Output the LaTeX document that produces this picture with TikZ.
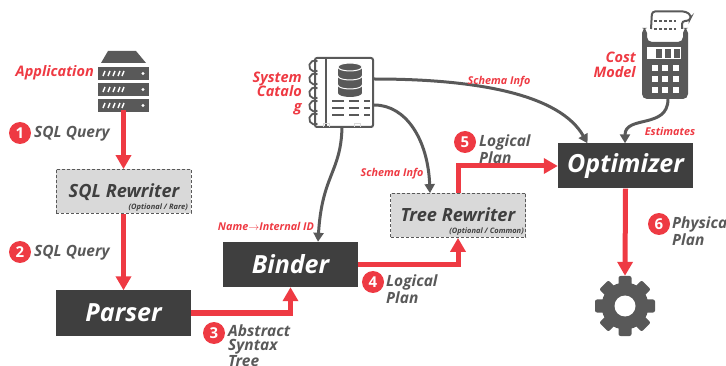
\documentclass[tikz,border=0pt]{standalone}
\usepackage{fontspec}
\setmainfont{Open Sans}
\usetikzlibrary{arrows.meta}
\definecolor{mainred}{HTML}{EE3A43}
\definecolor{darkbox}{HTML}{3F3F3F}
\definecolor{icongray}{HTML}{595959}
\definecolor{lightbox}{HTML}{D9D9D9}
\tikzset{
	stagebox/.style={draw=none, fill=darkbox, text=white, minimum width=135pt, minimum height=45pt, inner sep=0pt, font=\bfseries\itshape\fontsize{25}{25}\selectfont},
	optbox/.style={draw=icongray, densely dashed, line width=0.8pt, fill=lightbox, text=darkbox, minimum width=135pt, minimum height=44pt, inner sep=0pt},
	iconspot/.style={minimum width=#1, minimum height=#1, inner sep=0pt},
	badge/.style={circle, fill=mainred, text=white, minimum size=22pt, inner sep=0pt, font=\bfseries\fontsize{15}{15}\selectfont},
	graylabel/.style={text=icongray, align=left, anchor=west, inner sep=0pt, font=\bfseries\itshape\fontsize{15.5}{13.5}\selectfont},
	redlabel/.style={text=mainred, align=right, inner sep=0pt, font=\bfseries\itshape\fontsize{14.5}{14.5}\selectfont},
	smallred/.style={text=mainred, inner sep=0pt, font=\bfseries\itshape\fontsize{10.8}{11}\selectfont},
	rewritername/.style={text=darkbox, inner sep=0pt, font=\bfseries\itshape\fontsize{18.2}{18}\selectfont},
	rewriternote/.style={text=darkbox, anchor=east, inner sep=0pt, font=\bfseries\itshape\fontsize{7.5}{8}\selectfont},
	redflow/.style={draw=mainred, line width=5pt, -{Triangle[width=15pt,length=14pt]}},
	grayflow/.style={draw=icongray, line width=3pt, -{Triangle[width=10pt,length=9pt]}}
}
\begin{document}
\begin{tikzpicture}[x=1pt,y=-1pt]
	\useasboundingbox (0,0) rectangle (726,366);

	% stages
	\node[optbox] (sqlrewriter) at (123.5,191.5) {};
	\node[rewritername] (sqlname) at (124,192) {SQL Rewriter};
	\node[rewriternote] (sqlnote) at (188,208) {(Optional / Rare)};
	\node[stagebox] (parser) at (123.5,313) {Parser};
	\node[stagebox] (binder) at (290.5,264.5) {Binder};
	\node[optbox] (treerewriter) at (458,215.5) {};
	\node[rewritername] (treename) at (458,215) {Tree Rewriter};
	\node[rewriternote] (treenote) at (524,232) {(Optional / Common)};
	\node[stagebox] (optimizer) at (625.5,166) {Optimizer};

	% icon places
	\node[iconspot=50pt] (application) at (123.5,87) {};
	\node[iconspot=60pt, minimum height=69pt] (catalog) at (344,92.5) {};
	\node[iconspot=46pt, minimum height=71pt] (costmodel) at (665,63.5) {};
	\node[iconspot=60pt] (gear) at (625,306) {};

	% application
	\fill[icongray] (108,51) -- (136,51) -- (146,63) -- (101,63) -- cycle;
	\foreach \y in {67,83,99} {
		\fill[icongray] (98,\y) rectangle (149,\y+13);
		\fill[white] (143,\y+6.5) circle (1.6);
		\foreach \x in {103,108,113,118,122}
			\draw[white, line width=1.4pt] (\x,\y+9) -- (\x+2,\y+4);
	}

	% catalog
	\draw[icongray, line width=2pt, rounded corners=2pt] (315,58) rectangle (373,127);
	\draw[icongray, line width=2pt] (326,58) -- (326,127);
	\foreach \x in {323,354}
		\draw[lightbox, line width=0.6pt] (\x,127) -- (\x,123) -- (\x+6,123) -- (\x+6,127);
	\foreach \y in {66,79,93,106,119}
		\draw[icongray, line width=1.8pt] (317.5,\y+4.8) arc[start angle=-60, end angle=-300, radius=5.5pt];
	\foreach \y in {85,76,67} {
		\fill[icongray] (338,\y) rectangle (362,\y+8);
		\fill[icongray] (350,\y+8) ellipse (12 and 4);
		\draw[white, line width=1pt, fill=icongray] (350,\y) ellipse (12 and 4);
	}
	\foreach \y/\a/\b/\c in {101/332/349/364, 108/332/349/364, 115/332/349/364} {
		\draw[icongray, line width=2pt] (\a,\y) -- (\a+12,\y);
		\draw[icongray, line width=2pt] (\b,\y) -- (\b+10,\y);
		\draw[icongray, line width=2pt] (\c,\y) -- (\c+6,\y);
	}

	% cost model
	\draw[icongray, line width=2pt, rounded corners=3pt] (651,29) -- (652,11.5) -- (686,11.5) -- (691.5,16) -- (689,21) -- (682,21) -- (682,29);
	\draw[icongray, line width=1.5pt, densely dashed] (654,21) -- (676,21);
	\draw[icongray, line width=1.5pt, densely dashed] (654,29) -- (676,29);
	\fill[icongray, rounded corners=5pt] (642,28) -- (647,28) -- (647,42) -- (683,42) -- (683,28) -- (688,28) -- (688,99) -- (642,99) -- cycle;
	\fill[white] (647,47) rectangle (681,59);
	\foreach \x in {659,668,677}
		\fill[icongray] (\x-3,49) rectangle (\x+3,58);
	\foreach \x in {655,665,676}
		\foreach \y in {68,79,90}
			\fill[white] (\x-3,\y-3) rectangle (\x+3,\y+3);

	% gear
	\foreach \a in {0,45,...,315}
		\fill[icongray, rounded corners=2pt, rotate around={\a:(625,306)}] (618.5,276) rectangle (631.5,296);
	\fill[icongray] (625,306) circle (23.5);
	\fill[white] (625,306) circle (10.5);

	% flow
	\draw[redflow] (application.south |- 0,110) -- (sqlrewriter.north);
	\draw[redflow] (sqlrewriter.south) -- (parser.north);
	\draw[redflow] (parser.east) -| (binder.south);
	\draw[redflow] (binder.east) -| (treerewriter.south);
	\draw[redflow] (treerewriter.north) |- (optimizer.west);
	\draw[redflow] (optimizer.south) -- (gear.north);

	\draw[grayflow] ([yshift=13.5pt]catalog.east) .. controls +(105,0) and (560,95) .. ([xshift=-38pt]optimizer.north);
	\draw[grayflow] ([yshift=-12.5pt]catalog.east) .. controls +(32,0) and (428,140) .. ([xshift=-28pt]treerewriter.north);
	\draw[grayflow] ([xshift=-2pt]catalog.south) .. controls +(-1,45) and (322,175) .. ([xshift=27.5pt]binder.north);
	\draw[grayflow] (costmodel.south) ++(3,0) .. controls +(0,30) and (625,115) .. ([xshift=-0.5pt]optimizer.north);

	% numbers and labels
	\node[badge] (one) at (20,133) {1};
	\node[graylabel] (query1) at (34,134) {SQL Query};
	\node[badge] (two) at (20,252) {2};
	\node[graylabel] (query2) at (34,253) {SQL Query};
	\node[badge] (three) at (214,333) {3};
	\node[graylabel, anchor=north west] (ast) at (228,325) {Abstract\\Syntax\\Tree};
	\node[badge] (four) at (373,282) {4};
	\node[graylabel] (plan4) at (386,289) {Logical\\Plan};
	\node[badge] (five) at (465,142) {5};
	\node[graylabel] (plan5) at (479,149) {Logical\\Plan};
	\node[badge] (six) at (659,224) {6};
	\node[graylabel] (plan6) at (672,231) {Physical\\Plan};

	\node[redlabel, anchor=east] (applabel) at (94,73) {Application};
	\node[redlabel, anchor=east] (catlabel) at (302,93) {System\\Catalo\\g};
	\node[redlabel, anchor=east] (costlabel) at (636,65) {Cost\\Model};
	\node[smallred] (schema1) at (499,82) {Schema Info};
	\node[smallred] (schema2) at (392,174) {Schema Info};
	\node[smallred] (namemap) at (266,226) {Name$\rightarrow$Internal ID};
	\node[smallred] (estimates) at (670,131) {Estimates};
\end{tikzpicture}
\end{document}
